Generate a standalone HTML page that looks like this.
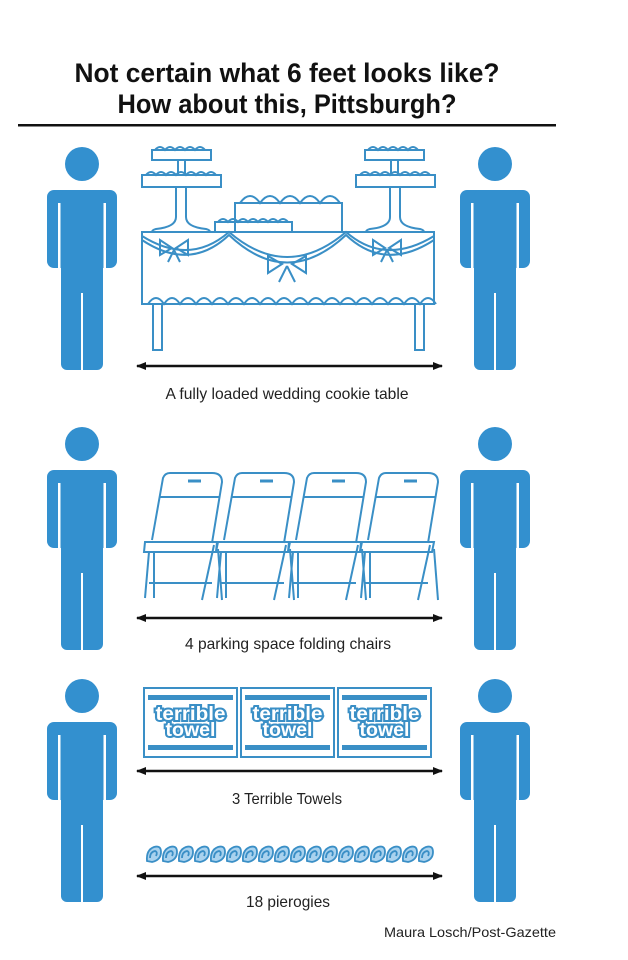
<!DOCTYPE html>
<html><head><meta charset="utf-8"><style>
html,body{margin:0;padding:0;background:#fff;}
svg{display:block}
text{font-family:"Liberation Sans Narrow","Liberation Sans",sans-serif;}
</style></head><body>
<svg width="628" height="960" viewBox="0 0 628 960" xmlns="http://www.w3.org/2000/svg">
<defs>
<g id="person">
  <circle cx="35" cy="-26" r="17" fill="#3390cf"/>
  <rect x="0" y="0" width="70" height="78" rx="7" fill="#3390cf"/>
  <rect x="14" y="0" width="42" height="180" rx="6" fill="#3390cf"/>
  <rect x="11" y="13" width="2.5" height="70" fill="#fff"/>
  <rect x="56.5" y="13" width="2.5" height="70" fill="#fff"/>
  <rect x="34" y="103" width="2" height="80" fill="#fff"/>
</g>
<g id="chair" fill="none" stroke="#3a8fc6" stroke-width="2">
  <path d="M12 75 L23 13 Q25 8 30 8 L72 8 Q82 8 82 17 L72 78"/>
  <line x1="20" y1="32" x2="80" y2="32"/>
  <line x1="48" y1="16" x2="61" y2="16" stroke-width="3"/>
  <path d="M5 77 L78 77 L76 87 L4 87 Z"/>
  <line x1="9" y1="87" x2="5" y2="133"/>
  <line x1="14" y1="87" x2="14" y2="133"/>
  <line x1="74" y1="80" x2="62" y2="135"/>
  <line x1="78" y1="84" x2="82" y2="135"/>
  <line x1="9" y1="118" x2="72" y2="118"/>
</g>
<g id="towel">
  <rect x="0" y="0" width="93" height="69" fill="none" stroke="#3a8fc6" stroke-width="2"/>
  <rect x="4" y="7" width="85" height="5" fill="#3a8fc6"/>
  <rect x="4" y="57" width="85" height="5" fill="#3a8fc6"/>
  <text x="46.5" y="32" text-anchor="middle" font-size="19" font-weight="bold" fill="#fff" stroke="#3a8fc6" stroke-width="4" paint-order="stroke" textLength="70" lengthAdjust="spacingAndGlyphs">terrible</text>
  <text x="46.5" y="48" text-anchor="middle" font-size="19" font-weight="bold" fill="#fff" stroke="#3a8fc6" stroke-width="4" paint-order="stroke" textLength="50" lengthAdjust="spacingAndGlyphs">towel</text>
</g>
<g id="pierogi" fill="none" stroke="#3a8fc6" stroke-width="1.8">
  <path d="M1 15 Q0 4 8 1 Q15 -1 15 6 Q15 14 6 16 Z" fill="#a9d2ee"/>
  <path d="M4 12 Q4 6 9 5 Q12 6 10 10"/>
</g>
<marker id="ah" markerWidth="10" markerHeight="8" refX="9" refY="4" orient="auto-start-reverse" markerUnits="userSpaceOnUse">
  <path d="M0 0 L10 4 L0 8 Z" fill="#111"/>
</marker>
</defs>

<text x="287" y="82" text-anchor="middle" font-size="27" font-weight="bold" fill="#111" textLength="425" lengthAdjust="spacingAndGlyphs">Not certain what 6 feet looks like?</text>
<text x="287" y="113" text-anchor="middle" font-size="27" font-weight="bold" fill="#111" textLength="339" lengthAdjust="spacingAndGlyphs">How about this, Pittsburgh?</text>
<rect x="18" y="124" width="538" height="2.5" fill="#111"/>

<use href="#person" x="47" y="190"/>
<use href="#person" x="460" y="190"/>
<use href="#person" x="47" y="470"/>
<use href="#person" x="460" y="470"/>
<use href="#person" x="47" y="722"/>
<use href="#person" x="460" y="722"/>

<!-- cookie table -->
<g fill="none" stroke="#3a8fc6" stroke-width="2">
  <rect x="152" y="150" width="59" height="10"/>
  <path d="M155 150 q5 -6 10 0 q5 -6 10 0 q5 -6 10 0 q5 -6 10 0 q5 -6 10 0"/>
  <rect x="142" y="175" width="79" height="12"/>
  <path d="M146 175 q5 -6 10 0 q5 -6 10 0 q5 -6 10 0 q5 -6 10 0 q5 -6 10 0 q5 -6 10 0 q5 -6 10 0"/>
  <path d="M178 160 v15 M185 160 v15 M176 187 v30 q0 10 -20 12 q-4 1 -4 3 M186 187 v30 q0 10 20 12 q4 1 4 3"/>
  <rect x="365" y="150" width="59" height="10"/>
  <path d="M368 150 q5 -6 10 0 q5 -6 10 0 q5 -6 10 0 q5 -6 10 0 q5 -6 10 0"/>
  <rect x="356" y="175" width="79" height="12"/>
  <path d="M360 175 q5 -6 10 0 q5 -6 10 0 q5 -6 10 0 q5 -6 10 0 q5 -6 10 0 q5 -6 10 0 q5 -6 10 0"/>
  <path d="M391 160 v15 M398 160 v15 M390 187 v30 q0 10 -20 12 q-4 1 -4 3 M400 187 v30 q0 10 20 12 q4 1 4 3"/>
  <rect x="235" y="203" width="107" height="29"/>
  <path d="M240 203 q10 -14 20 0 q10 -14 20 0 q10 -14 20 0 q10 -14 20 0 q10 -14 20 0"/>
  <rect x="215" y="222" width="77" height="10"/>
  <path d="M218 222 q5 -6 10 0 q5 -6 10 0 q5 -6 10 0 q5 -6 10 0 q5 -6 10 0 q5 -6 10 0 q5 -6 10 0"/>
  <path d="M142 232 H434 V304 H142 Z"/>
  <path d="M142 240 Q190 272 229 235 Q287 290 346 235 Q385 272 434 240"/>
  <path d="M142 236 Q190 266 229 232 Q287 282 346 232 Q385 266 434 236"/>
  <path d="M148 304 q8 -12 16 0 q8 -12 16 0 q8 -12 16 0 q8 -12 16 0 q8 -12 16 0 q8 -12 16 0 q8 -12 16 0 q8 -12 16 0 q8 -12 16 0 q8 -12 16 0 q8 -12 16 0 q8 -12 16 0 q8 -12 16 0 q8 -12 16 0 q8 -12 16 0 q8 -12 16 0 q8 -12 16 0 q8 -12 16 0" />
  <rect x="153" y="304" width="9" height="46"/>
  <rect x="415" y="304" width="9" height="46"/>
  <path d="M172 248 l-12 -8 l0 15 z M176 248 l12 -8 l0 15 z M174 250 l-6 12 M174 250 l6 12"/>
  <path d="M282 264 l-14 -8 l0 17 z M292 264 l14 -8 l0 17 z M287 266 l-8 16 M287 266 l8 16"/>
  <path d="M385 248 l-12 -8 l0 15 z M389 248 l12 -8 l0 15 z M387 250 l-6 12 M387 250 l6 12"/>
</g>
<line x1="137" y1="366" x2="442" y2="366" stroke="#111" stroke-width="2.5" marker-start="url(#ah)" marker-end="url(#ah)"/>
<text x="287" y="399" text-anchor="middle" font-size="16" fill="#222" textLength="243" lengthAdjust="spacingAndGlyphs">A fully loaded wedding cookie table</text>

<!-- chairs -->
<use href="#chair" x="140" y="465"/>
<use href="#chair" x="212" y="465"/>
<use href="#chair" x="284" y="465"/>
<use href="#chair" x="356" y="465"/>
<line x1="137" y1="618" x2="442" y2="618" stroke="#111" stroke-width="2.5" marker-start="url(#ah)" marker-end="url(#ah)"/>
<text x="288" y="649" text-anchor="middle" font-size="16" fill="#222" textLength="206" lengthAdjust="spacingAndGlyphs">4 parking space folding chairs</text>

<!-- towels -->
<use href="#towel" x="144" y="688"/>
<use href="#towel" x="241" y="688"/>
<use href="#towel" x="338" y="688"/>
<line x1="137" y1="771" x2="442" y2="771" stroke="#111" stroke-width="2.5" marker-start="url(#ah)" marker-end="url(#ah)"/>
<text x="287" y="804" text-anchor="middle" font-size="16" fill="#222" textLength="110" lengthAdjust="spacingAndGlyphs">3 Terrible Towels</text>

<!-- pierogies -->
<g>
<use href="#pierogi" x="146" y="846"/><use href="#pierogi" x="162" y="846"/><use href="#pierogi" x="178" y="846"/>
<use href="#pierogi" x="194" y="846"/><use href="#pierogi" x="210" y="846"/><use href="#pierogi" x="226" y="846"/>
<use href="#pierogi" x="242" y="846"/><use href="#pierogi" x="258" y="846"/><use href="#pierogi" x="274" y="846"/>
<use href="#pierogi" x="290" y="846"/><use href="#pierogi" x="306" y="846"/><use href="#pierogi" x="322" y="846"/>
<use href="#pierogi" x="338" y="846"/><use href="#pierogi" x="354" y="846"/><use href="#pierogi" x="370" y="846"/>
<use href="#pierogi" x="386" y="846"/><use href="#pierogi" x="402" y="846"/><use href="#pierogi" x="418" y="846"/>
</g>
<line x1="137" y1="876" x2="442" y2="876" stroke="#111" stroke-width="2.5" marker-start="url(#ah)" marker-end="url(#ah)"/>
<text x="288" y="907" text-anchor="middle" font-size="16" fill="#222" textLength="84" lengthAdjust="spacingAndGlyphs">18 pierogies</text>

<text x="384" y="937" font-size="14" fill="#222" textLength="172" lengthAdjust="spacingAndGlyphs">Maura Losch/Post-Gazette</text>
</svg>
</body></html>
